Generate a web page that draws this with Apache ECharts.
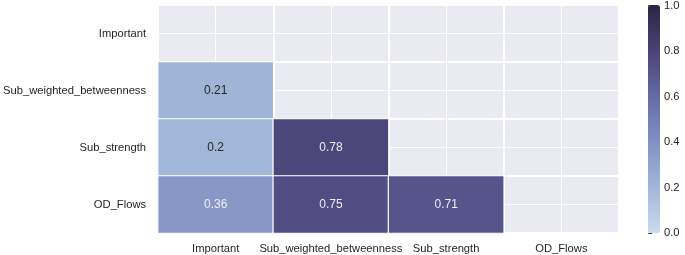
<!DOCTYPE html>
<html><head><meta charset="utf-8">
<script src="https://cdn.jsdelivr.net/npm/echarts@6/dist/echarts.min.js"></script>
<style>html,body{margin:0;padding:0;background:#fff}#c{width:685px;height:255px}</style>
</head><body><div id="c"></div>
<script>
const categories = ['Important', 'Sub_weighted_betweenness', 'Sub_strength', 'OD_Flows'];
const rowSubWeighted = [0.21];
const rowSubStrength = [0.2, 0.78];
const rowODFlows = [0.36, 0.75, 0.71];
const colorbarTicks = [0, 0.2, 0.4, 0.6, 0.8, 1.0];
const cmap = ['#cadcee', '#a2b6d9', '#8091c3', '#666aa3', '#4a4277', '#2c2444'];

const rows = [[], rowSubWeighted, rowSubStrength, rowODFlows];
const data = [];
rows.forEach((r, yi) => r.forEach((v, xi) => {
  data.push({ value: [xi, yi, v], label: { color: v > 0.3 ? '#eeeef4' : '#262626' } });
}));

const G = { left: 157, top: 5, width: 462, height: 228 };
const chart = echarts.init(document.getElementById('c'));
const font = 'Liberation Sans, Arial, sans-serif';
chart.setOption({
  animation: false,
  backgroundColor: '#fff',
  grid: [
    Object.assign({ show: true, backgroundColor: '#eaeaf2', borderWidth: 0 }, G),
    { left: 648, top: 5, width: 12, height: 228, show: false }
  ],
  xAxis: [
    { type: 'category', data: categories, gridIndex: 0, position: 'bottom',
      axisLine: { show: false }, axisTick: { show: false },
      axisLabel: { color: '#262626', fontFamily: font, fontSize: 11.2, margin: 10, interval: 0 },
      splitLine: { show: true, interval: 0, lineStyle: { color: '#fff', width: 2 } } },
    { type: 'value', gridIndex: 0, min: 0, max: 8, interval: 1, show: true,
      axisLine: { show: false }, axisTick: { show: false }, axisLabel: { show: false },
      splitLine: { show: true, lineStyle: { color: '#fff', width: 1 } } },
    { type: 'value', gridIndex: 1, min: 0, max: 1, show: false }
  ],
  yAxis: [
    { type: 'category', data: categories, gridIndex: 0, inverse: true,
      axisLine: { show: false }, axisTick: { show: false },
      axisLabel: { color: '#262626', fontFamily: font, fontSize: 11.2, margin: 12, interval: 0 },
      splitLine: { show: true, interval: 0, lineStyle: { color: '#fff', width: 2 } } },
    { type: 'value', gridIndex: 0, min: 0, max: 8, interval: 1, position: 'right',
      axisLine: { show: false }, axisTick: { show: false }, axisLabel: { show: false },
      splitLine: { show: true, lineStyle: { color: '#fff', width: 1 } } },
    { type: 'value', gridIndex: 1, min: 0, max: 1, interval: 0.2, position: 'right',
      axisLine: { show: false },
      axisTick: { show: true, length: 4, lineStyle: { color: '#444', width: 1 } },
      axisLabel: { color: '#262626', fontFamily: font, fontSize: 11.2, margin: 4,
        formatter: v => v.toFixed(1) },
      splitLine: { show: false } }
  ],
  visualMap: {
    type: 'continuous', min: 0, max: 1, seriesIndex: 0, calculable: false,
    orient: 'vertical', left: 648, top: 5, itemWidth: 12, itemHeight: 228,
    padding: 0, text: null, showLabel: false, hoverLink: false,
    inRange: { color: cmap }
  },
  series: [{
    type: 'heatmap', xAxisIndex: 0, yAxisIndex: 0, data: data,
    itemStyle: { borderColor: '#fff', borderWidth: 1.2 },
    label: { show: true, fontFamily: font, fontSize: 12, formatter: p => String(p.value[2]) },
    emphasis: { disabled: true }
  }]
});
</script></body></html>
